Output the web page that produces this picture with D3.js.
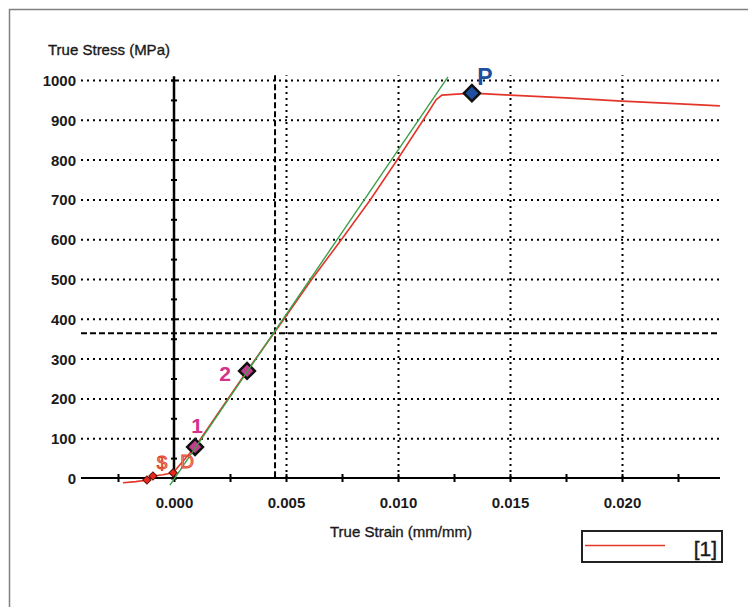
<!DOCTYPE html>
<html>
<head>
<meta charset="utf-8">
<script src="https://cdn.jsdelivr.net/npm/d3@7"></script>
<style>
  body { margin: 0; background: #fff; }
  svg { display: block; font-family: "Liberation Sans", Arial, sans-serif; }
</style>
</head>
<body>
<svg id="chart" width="748" height="607"></svg>
<script>
// measured curve (strain mm/mm, stress MPa)
var redStrain = [-0.00228, -0.0017, -0.0012, -0.00094, -0.0005, -0.00004, 0.00094, 0.00326, 0.00488, 0.00612, 0.00746, 0.00875, 0.00996, 0.01112, 0.0117, 0.01196, 0.0133, 0.0150, 0.0175, 0.0200, 0.0226, 0.02437];
var redStress = [-12, -9, -5, 5, 8, 13, 78, 269, 397, 497, 598, 698, 799, 899, 950, 962, 967, 962, 955, 947, 940, 935];

// fitted elastic line
var fitStrain = [-0.00018, 0.01223];
var fitStress = [-18, 1008];

// picked points
var pointLabels = ['', '$', 'D', '1', '2', 'P'];
var pointStrain = [-0.00121, -0.00094, -0.00004, 0.00094, 0.00326, 0.0133];
var pointStress = [-5, 5, 13, 78, 269, 967];
var pointKind = ['small', 'small', 'small', 'pick', 'pick', 'peak'];

// cursor crosshair
var cursorStrain = 0.00451;
var cursorStress = 364;

var xMajor = [0, 0.005, 0.010, 0.015, 0.020];
var xMinor = [-0.0025, 0, 0.0025, 0.005, 0.0075, 0.010, 0.0125, 0.015, 0.0175, 0.020, 0.0225];
var yTicks = [0, 100, 200, 300, 400, 500, 600, 700, 800, 900, 1000];
var yMinor = d3.range(0, 1001, 50);

var svg = d3.select('#chart');

var pLeft = 81, pRight = 720, pTop = 80, pBottom = 478;
var x = d3.scaleLinear().domain([-0.004152, 0.024375]).range([pLeft, pRight]);
var y = d3.scaleLinear().domain([0, 1000]).range([pBottom, pTop]);
var plotTop = y(1012);

// frame
svg.append('path').attr('d', 'M9.5,607V9.5H748')
  .attr('fill', 'none').attr('stroke', '#808080').attr('stroke-width', 1.5);

// dotted grid
var gridY = svg.append('g').attr('transform', 'translate(' + pLeft + ',0)')
  .call(d3.axisLeft(y).tickValues(yTicks.slice(1)).tickSize(-(pRight - pLeft)).tickFormat(''));
gridY.select('.domain').remove();
gridY.selectAll('line').attr('stroke', '#000').attr('stroke-width', 2).attr('stroke-dasharray', '2,4');

var gridX = svg.append('g').attr('transform', 'translate(0,' + pBottom + ')')
  .call(d3.axisBottom(x).tickValues(xMajor.slice(1)).tickSize(-(pBottom - plotTop)).tickFormat(''));
gridX.select('.domain').remove();
gridX.selectAll('line').attr('stroke', '#000').attr('stroke-width', 2).attr('stroke-dasharray', '2,4');

// cursor crosshair
svg.append('line')
  .attr('x1', pLeft).attr('x2', pRight)
  .attr('y1', y(cursorStress)).attr('y2', y(cursorStress))
  .attr('stroke', '#000').attr('stroke-width', 2).attr('stroke-dasharray', '6,3');
svg.append('line')
  .attr('x1', x(cursorStrain)).attr('x2', x(cursorStrain))
  .attr('y1', plotTop).attr('y2', pBottom)
  .attr('stroke', '#000').attr('stroke-width', 2).attr('stroke-dasharray', '6,3');

// y tick labels
var yLab = svg.append('g').attr('transform', 'translate(' + (pLeft - 5) + ',0)')
  .call(d3.axisLeft(y).tickValues(yTicks).tickSize(0).tickPadding(0).tickFormat(d3.format('d')));
yLab.select('.domain').remove();
yLab.selectAll('text').attr('font-size', 15).attr('font-family', '"Liberation Sans", Arial, sans-serif')
  .attr('fill', '#1a1a1a').attr('font-weight', 'bold').attr('dy', '0.36em');

// x tick labels
var xLab = svg.append('g').attr('transform', 'translate(0,' + (pBottom - 4) + ')')
  .call(d3.axisBottom(x).tickValues(xMinor).tickSize(8).tickPadding(15)
    .tickFormat(function (d) { return xMajor.some(function (m) { return Math.abs(m - d) < 1e-9; }) ? d3.format('.3f')(d) : ''; }));
xLab.select('.domain').remove();
xLab.selectAll('line').attr('stroke', '#000').attr('stroke-width', 2);
xLab.selectAll('text').attr('font-size', 15).attr('font-family', '"Liberation Sans", Arial, sans-serif')
  .attr('fill', '#1a1a1a').attr('font-weight', 'bold');

// axes lines
svg.append('line').attr('x1', pLeft).attr('x2', pRight).attr('y1', pBottom).attr('y2', pBottom)
  .attr('stroke', '#000').attr('stroke-width', 2);
svg.append('line').attr('x1', x(0)).attr('x2', x(0)).attr('y1', plotTop + 1).attr('y2', pBottom)
  .attr('stroke', '#000').attr('stroke-width', 2.5);
var yTk = svg.append('g').attr('transform', 'translate(' + (x(0) + 3) + ',0)')
  .call(d3.axisLeft(y).tickValues(yMinor).tickSize(6).tickFormat(''));
yTk.select('.domain').remove();
yTk.selectAll('line').attr('stroke', '#000').attr('stroke-width', 2);

// axis titles
svg.append('text').attr('x', 48).attr('y', 55).text('True Stress (MPa)')
  .attr('font-size', 15).attr('fill', '#1a1a1a').attr('stroke', '#1a1a1a').attr('stroke-width', 0.35);
svg.append('text').attr('x', 401).attr('y', 537).attr('text-anchor', 'middle').text('True Strain (mm/mm)')
  .attr('font-size', 15).attr('fill', '#1a1a1a').attr('stroke', '#1a1a1a').attr('stroke-width', 0.35);

// curves
var line = d3.line().x(function (d) { return x(d[0]); }).y(function (d) { return y(d[1]); });
svg.append('path').datum(d3.zip(redStrain, redStress)).attr('d', line)
  .attr('fill', 'none').attr('stroke', '#e3362b').attr('stroke-width', 1.6);

// points
var styles = {
  small: { size: 34, fill: '#e8281e', stroke: '#5a1208', sw: 1, color: '#f2a08e', tstroke: '#e0402a', tsw: 0.9, fs: 19, fw: 'normal' },
  pick: { size: 125, fill: '#c23d8e', stroke: '#111', sw: 2.5, color: '#d6308a', tstroke: 'none', tsw: 0, fs: 21, fw: 'bold' },
  peak: { size: 130, fill: '#1f4f9e', stroke: '#111', sw: 2.5, color: '#1f4f9e', tstroke: 'none', tsw: 0, fs: 23, fw: 'bold' }
};
var labelOffsets = [[0, 0], [9, -14], [14, -12], [2, -22], [-22, 3], [13, -16]];
var pts = d3.range(pointLabels.length).map(function (i) {
  return { label: pointLabels[i], sx: pointStrain[i], sy: pointStress[i], kind: pointKind[i], off: labelOffsets[i] };
});

svg.selectAll('.pt').data(pts).enter().append('path')
  .attr('class', 'pt')
  .attr('d', function (d) { return d3.symbol(d3.symbolSquare, styles[d.kind].size)(); })
  .attr('transform', function (d) { return 'translate(' + x(d.sx) + ',' + y(d.sy) + ') rotate(45)'; })
  .attr('fill', function (d) { return styles[d.kind].fill; })
  .attr('stroke', function (d) { return styles[d.kind].stroke; })
  .attr('stroke-width', function (d) { return styles[d.kind].sw; });

svg.append('path').datum(d3.zip(fitStrain, fitStress)).attr('d', line)
  .attr('fill', 'none').attr('stroke', '#3c9f48').attr('stroke-width', 1.4);

svg.selectAll('.plab').data(pts).enter().append('text')
  .attr('class', 'plab')
  .attr('x', function (d) { return x(d.sx) + d.off[0]; })
  .attr('y', function (d) { return y(d.sy) + d.off[1]; })
  .attr('text-anchor', 'middle')
  .attr('dy', '0.36em')
  .attr('font-size', function (d) { return styles[d.kind].fs; })
  .attr('font-weight', function (d) { return styles[d.kind].fw; })
  .attr('fill', function (d) { return styles[d.kind].color; })
  .attr('stroke', function (d) { return styles[d.kind].tstroke; })
  .attr('stroke-width', function (d) { return styles[d.kind].tsw; })
  .text(function (d) { return d.label; });

// legend
var lg = svg.append('g');
lg.append('rect').attr('x', 582).attr('y', 531).attr('width', 140).attr('height', 31)
  .attr('fill', '#fff').attr('stroke', '#222').attr('stroke-width', 2);
lg.append('line').attr('x1', 585).attr('x2', 665).attr('y1', 545.5).attr('y2', 545.5)
  .attr('stroke', '#e3362b').attr('stroke-width', 1.6);
lg.append('text').attr('x', 717).attr('y', 556).attr('text-anchor', 'end').text('[1]')
  .attr('font-size', 21).attr('fill', '#1a1a1a').attr('stroke', '#1a1a1a').attr('stroke-width', 0.4);
</script>
</body>
</html>
